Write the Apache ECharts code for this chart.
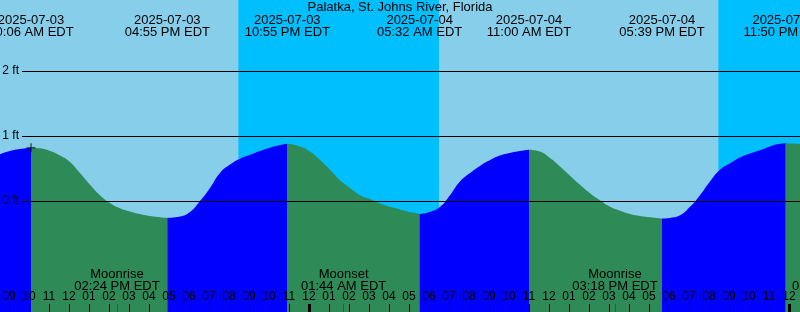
<!DOCTYPE html>
<html><head><meta charset="utf-8">
<script src="https://cdn.jsdelivr.net/npm/echarts@6/dist/echarts.min.js"></script>
<style>html,body{margin:0;padding:0;background:#87CEEB}#c{width:800px;height:312px}</style>
</head><body><div id="c"></div>
<script>
const chartTitle = 'Palatka, St. Johns River, Florida';
// time = hours since 2025-07-03 00:00 EDT, height in ft
const tide = [
  [8.55,0.72],[9.05,0.77],[9.55,0.80],[10.1,0.82],[10.55,0.81],[11.05,0.77],[11.55,0.70],[12.05,0.60],
  [12.55,0.43],[13.05,0.25],[13.55,0.09],[14.05,-0.03],[14.55,-0.11],[15.05,-0.16],[15.55,-0.20],
  [16.05,-0.23],[16.55,-0.25],[16.917,-0.26],[17.55,-0.24],[18.05,-0.17],[18.55,0.00],[19.05,0.20],
  [19.55,0.43],[20.05,0.56],[20.55,0.65],[21.05,0.71],[21.55,0.77],[22.05,0.82],[22.55,0.86],
  [22.917,0.88],[23.55,0.84],[24.05,0.76],[24.55,0.63],[25.05,0.48],[25.55,0.32],[26.05,0.20],
  [26.55,0.09],[27.05,0.03],[27.55,-0.04],[28.05,-0.09],[28.55,-0.13],[29.05,-0.17],[29.533,-0.20],
  [30.05,-0.17],[30.55,-0.09],[31.05,0.09],[31.55,0.30],[32.05,0.43],[32.55,0.54],[33.05,0.63],
  [33.55,0.70],[34.05,0.74],[34.55,0.77],[35.0,0.79],[35.55,0.76],[36.05,0.66],[36.55,0.53],
  [37.05,0.39],[37.55,0.25],[38.05,0.12],[38.55,0.01],[39.05,-0.09],[39.55,-0.15],[40.05,-0.20],
  [40.55,-0.23],[41.05,-0.25],[41.65,-0.27],[42.05,-0.26],[42.55,-0.22],[43.05,-0.09],[43.55,0.09],
  [44.05,0.30],[44.55,0.48],[45.05,0.58],[45.55,0.67],[46.05,0.73],[46.55,0.78],[47.05,0.84],
  [47.55,0.88],[47.833,0.89],[48.55,0.88]
];
const eventTimes = [10.1, 16.917, 22.917, 29.533, 35.0, 41.65, 47.833];
const eventDates = ['2025-07-03','2025-07-03','2025-07-03','2025-07-04','2025-07-04','2025-07-04','2025-07-04'];
const eventClock = ['10:06 AM EDT','04:55 PM EDT','10:55 PM EDT','05:32 AM EDT','11:00 AM EDT','05:39 PM EDT','11:50 PM EDT'];
const moonTimes = [14.4, 25.733, 39.3, 50.28];
const moonNames = ['Moonrise','Moonset','Moonrise','Moonset'];
const moonClock = ['02:24 PM EDT','01:44 AM EDT','03:18 PM EDT','02:17 AM EDT'];
const nights = [[20.47, 30.5], [44.47, 54.5]];
const midnights = [24, 48];
const hourTicks = [9,10,11,12,13,14,15,16,17,18,19,20,21,22,23,24,25,26,27,28,29,30,31,32,33,34,35,36,37,38,39,40,41,42,43,44,45,46,47,48,49,50,51,52,53];
const hourLabels = ['09','10','11','12','01','02','03','04','05','06','07','08','09','10','11','12','01','02','03','04','05','06','07','08','09','10','11','12','01','02','03','04','05','06','07','08','09','10','11','12','01','02','03','04','05'];
const heightTicks = [0, 1, 2];
const nowMark = [10.1, 0.82];

const X_MIN = 8.55, X_MAX = 53.55, Y_MIN = -1.7077, Y_MAX = 3.0923;
const FONT = 'Liberation Sans, Arial, sans-serif';
const idx = (arr, v) => arr.findIndex(a => Math.abs(a - v) < 1e-6);

// split into rising (blue) / falling (green) segments at the high/low events
const bounds = [tide[0][0], ...eventTimes, tide[tide.length - 1][0]];
const segSeries = [];
for (let i = 0; i < bounds.length - 1; i++) {
  const pts = tide.filter(p => p[0] >= bounds[i] - 1e-9 && p[0] <= bounds[i + 1] + 1e-9);
  const rising = pts[pts.length - 1][1] > pts[0][1];
  const col = rising ? '#0000FF' : '#2E8B57';
  segSeries.push({
    type: 'line', xAxisIndex: 0, yAxisIndex: 0, data: pts, smooth: 0.5,
    showSymbol: false, symbol: 'none', silent: true, z: 2,
    lineStyle: { width: 0, color: col },
    areaStyle: { color: col, opacity: 1, origin: 'start' }
  });
}

const baseX = { gridIndex: 0, type: 'value', min: X_MIN, max: X_MAX, axisLine: { show: false, onZero: false }, splitLine: { show: false }, z: 5 };

const chart = echarts.init(document.getElementById('c'), null, { renderer: 'canvas' });
chart.setOption({
  animation: false,
  textStyle: { fontFamily: FONT },
  title: { text: chartTitle, left: 'center', top: 1, padding: 0, textStyle: { fontSize: 13, fontWeight: 'normal', color: '#000', fontFamily: FONT } },
  grid: [
    { left: 0, right: -100, top: 0, bottom: 0, show: true, backgroundColor: '#87CEEB', borderWidth: 0, outerBoundsMode: 'none', containLabel: false },
    { left: 22, right: 0, top: 71, bottom: 111, show: false, outerBoundsMode: 'none', containLabel: false }
  ],
  xAxis: [
    Object.assign({}, baseX, { position: 'bottom',
      axisTick: { show: true, inside: true, length: 8, customValues: hourTicks, lineStyle: { color: '#000', width: 1 } },
      axisLabel: { show: true, inside: true, margin: 9, customValues: hourTicks, fontSize: 12, color: '#000', fontFamily: FONT,
        formatter: v => hourLabels[idx(hourTicks, v)] } }),
    Object.assign({}, baseX, { position: 'top',
      axisTick: { show: false },
      axisLabel: { show: true, inside: true, margin: 14, customValues: eventTimes, fontSize: 13, lineHeight: 12.5, color: '#000', fontFamily: FONT,
        formatter: v => { const i = idx(eventTimes, v); return eventDates[i] + '\n' + eventClock[i]; } } }),
    Object.assign({}, baseX, { position: 'bottom',
      axisTick: { show: true, inside: true, length: 8, customValues: midnights, lineStyle: { color: '#000', width: 3 } },
      axisLabel: { show: false } }),
    Object.assign({}, baseX, { position: 'bottom',
      axisTick: { show: true, inside: true, length: 8, customValues: moonTimes, lineStyle: { color: '#FF0000', width: 1 } },
      axisLabel: { show: true, inside: true, margin: 20, customValues: moonTimes, fontSize: 13, lineHeight: 12, color: '#000', fontFamily: FONT,
        formatter: v => { const i = idx(moonTimes, v); return moonNames[i] + '\n' + moonClock[i]; } } }),
    { gridIndex: 1, type: 'value', min: 0, max: 1, show: false }
  ],
  yAxis: [
    { gridIndex: 0, type: 'value', min: Y_MIN, max: Y_MAX, show: false },
    { gridIndex: 1, type: 'value', min: heightTicks[0], max: heightTicks[heightTicks.length - 1], interval: 1, z: 5,
      axisLine: { show: false, onZero: false }, axisTick: { show: false },
      splitLine: { show: true, lineStyle: { color: '#000', width: 1 } },
      axisLabel: { show: true, margin: 3, fontSize: 12, color: '#000', fontFamily: FONT, formatter: '{value} ft' } }
  ],
  series: [
    { type: 'custom', xAxisIndex: 0, yAxisIndex: 0, data: nights, encode: { x: [0, 1] }, z: 1, silent: true, clip: true,
      renderItem: (params, api) => {
        const s = api.coord([api.value(0), 0]);
        const e = api.coord([api.value(1), 0]);
        const cs = params.coordSys;
        return { type: 'rect', shape: { x: s[0], y: cs.y, width: e[0] - s[0], height: cs.height }, style: { fill: '#00BFFF' } };
      } },
    ...segSeries,
    { type: 'scatter', xAxisIndex: 0, yAxisIndex: 0, data: [nowMark], z: 6, silent: true,
      symbol: 'path://M3.5,0h1v3.5h3.5v1h-3.5v3.5h-1v-3.5h-3.5v-1h3.5z', symbolSize: 9, itemStyle: { color: '#000' } }
  ]
});
</script>
</body></html>
